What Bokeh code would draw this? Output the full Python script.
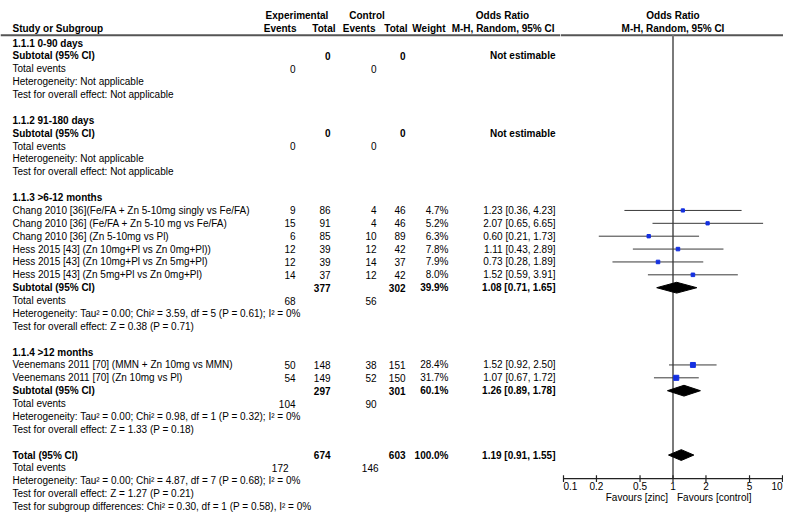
import math
from bokeh.plotting import figure
from bokeh.models import ColumnDataSource, Range1d
from bokeh.layouts import row
from bokeh.embed import file_html
from bokeh.resources import INLINE
from bokeh.core.properties import value

# ---------------- data ----------------
group_titles = ["1.1.1 0-90 days", "1.1.2 91-180 days", "1.1.3 >6-12 months", "1.1.4 >12 months"]

study_names = [
    "Chang 2010 [36](Fe/FA + Zn 5-10mg singly vs Fe/FA)",
    "Chang 2010 [36] (Fe/FA + Zn 5-10 mg vs Fe/FA)",
    "Chang 2010 [36] (Zn 5-10mg vs Pl)",
    "Hess 2015 [43] (Zn 10mg+Pl vs Zn 0mg+Pl))",
    "Hess 2015 [43] (Zn 10mg+Pl vs Zn 5mg+Pl)",
    "Hess 2015 [43] (Zn 5mg+Pl vs Zn 0mg+Pl)",
    "Veenemans 2011 [70] (MMN + Zn 10mg vs MMN)",
    "Veenemans 2011 [70] (Zn 10mg vs Pl)",
]
study_group = [2, 2, 2, 2, 2, 2, 3, 3]
exp_events = [9, 15, 6, 12, 12, 14, 50, 54]
exp_total = [86, 91, 85, 39, 39, 37, 148, 149]
ctrl_events = [4, 4, 10, 12, 14, 12, 38, 52]
ctrl_total = [46, 46, 89, 42, 37, 42, 151, 150]
weight = [4.7, 5.2, 6.3, 7.8, 7.9, 8.0, 28.4, 31.7]
or_est = [1.23, 2.07, 0.60, 1.11, 0.73, 1.52, 1.52, 1.07]
or_lo = [0.36, 0.65, 0.21, 0.43, 0.28, 0.59, 0.92, 0.67]
or_hi = [4.23, 6.65, 1.73, 2.89, 1.89, 3.91, 2.50, 1.72]

sub_exp_total = [0, 0, 377, 297]
sub_ctrl_total = [0, 0, 302, 301]
sub_weight = [None, None, 39.9, 60.1]
sub_est = [None, None, 1.08, 1.26]
sub_lo = [None, None, 0.71, 0.89]
sub_hi = [None, None, 1.65, 1.78]
sub_exp_events = [0, 0, 68, 104]
sub_ctrl_events = [0, 0, 56, 90]
sub_het = [
    "Heterogeneity: Not applicable",
    "Heterogeneity: Not applicable",
    "Heterogeneity: Tau² = 0.00; Chi² = 3.59, df = 5 (P = 0.61); I² = 0%",
    "Heterogeneity: Tau² = 0.00; Chi² = 0.98, df = 1 (P = 0.32); I² = 0%",
]
sub_test = [
    "Test for overall effect: Not applicable",
    "Test for overall effect: Not applicable",
    "Test for overall effect: Z = 0.38 (P = 0.71)",
    "Test for overall effect: Z = 1.33 (P = 0.18)",
]

total_exp_total = 674
total_ctrl_total = 603
total_weight = 100.0
total_est, total_lo, total_hi = 1.19, 0.91, 1.55
total_exp_events = 172
total_ctrl_events = 146
total_het = "Heterogeneity: Tau² = 0.00; Chi² = 4.87, df = 7 (P = 0.68); I² = 0%"
total_test = "Test for overall effect: Z = 1.27 (P = 0.21)"
total_subgroup = "Test for subgroup differences: Chi² = 0.30, df = 1 (P = 0.58), I² = 0%"

axis_ticks = [0.1, 0.2, 0.5, 1, 2, 5, 10]
axis_tick_labels = ["0.1", "0.2", "0.5", "1", "2", "5", "10"]
favours_labels = ["Favours [zinc]", "Favours [control]"]

# ---------------- layout constants ----------------
FONT = "Liberation Sans"
FS = "10px"
W_LEFT, W_RIGHT, H = 560, 223, 512
ROW0, ROWH = 42.59, 12.874
K_TOP = -ROW0 / ROWH
K_BOT = (H - ROW0) / ROWH
K_HEAD1, K_HEAD2, K_LINE = -2.105, -1.128, -0.60
K_AXIS, K_TICKLAB, K_FAV = 33.83, 34.44, 35.26

X_LABEL, X_EE, X_ET, X_CE, X_CT, X_W, X_OR = 12, 295, 330, 376, 405, 448, 555

yr = Range1d(start=K_BOT, end=K_TOP)

def make_fig(width, xr, xtype):
    p = figure(width=width, height=H, x_range=xr, y_range=yr, x_axis_type=xtype,
               x_axis_location=None, y_axis_location=None, toolbar_location=None,
               output_backend="svg", min_border=0)
    p.outline_line_color = None
    p.grid.grid_line_color = None
    p.background_fill_color = "white"
    p.border_fill_color = "white"
    return p

left = make_fig(W_LEFT, Range1d(0, W_LEFT), "linear")
PX_DEC = 109.5
lg_lo = -1 - 3 / PX_DEC
lg_hi = 1 + 1 / PX_DEC
right = make_fig(W_RIGHT, Range1d(10 ** lg_lo, 10 ** lg_hi), "log")

# ---------------- table text ----------------
T = dict(x=[], y=[], text=[], align=[], style=[])

def put(x, y, t, align="left", style="normal"):
    T["x"].append(x); T["y"].append(y); T["text"].append(str(t))
    T["align"].append(align); T["style"].append(style)

fmt_or = lambda e, l, h: f"{e:.2f} [{l:.2f}, {h:.2f}]"

# header
put(296.5, K_HEAD1, "Experimental", "center", "bold")
put(366.5, K_HEAD1, "Control", "center", "bold")
put(502, K_HEAD1, "Odds Ratio", "center", "bold")
put(X_LABEL, K_HEAD2, "Study or Subgroup", "left", "bold")
put(296, K_HEAD2, "Events", "right", "bold")
put(335, K_HEAD2, "Total", "right", "bold")
put(375, K_HEAD2, "Events", "right", "bold")
put(407, K_HEAD2, "Total", "right", "bold")
put(445, K_HEAD2, "Weight", "right", "bold")
put(554, K_HEAD2, "M-H, Random, 95% CI", "right", "bold")

st_rows, sub_rows = [], []
k = 0
for g in range(len(group_titles)):
    put(X_LABEL, k, group_titles[g], "left", "bold"); k += 1
    for i in range(len(study_names)):
        if study_group[i] != g:
            continue
        put(X_LABEL, k, study_names[i])
        put(X_EE, k, exp_events[i], "right")
        put(X_ET, k, exp_total[i], "right")
        put(X_CE, k, ctrl_events[i], "right")
        put(X_CT, k, ctrl_total[i], "right")
        put(X_W, k, f"{weight[i]:.1f}%", "right")
        put(X_OR, k, fmt_or(or_est[i], or_lo[i], or_hi[i]), "right")
        st_rows.append(k)
        k += 1
    put(X_LABEL, k, "Subtotal (95% CI)", "left", "bold")
    put(X_ET, k, sub_exp_total[g], "right", "bold")
    put(X_CT, k, sub_ctrl_total[g], "right", "bold")
    if sub_est[g] is None:
        put(X_OR, k, "Not estimable", "right", "bold")
    else:
        put(X_W, k, f"{sub_weight[g]:.1f}%", "right", "bold")
        put(X_OR, k, fmt_or(sub_est[g], sub_lo[g], sub_hi[g]), "right", "bold")
    sub_rows.append(k)
    k += 1
    put(X_LABEL, k, "Total events")
    put(X_EE, k, sub_exp_events[g], "right")
    put(X_CE, k, sub_ctrl_events[g], "right")
    k += 1
    put(X_LABEL, k, sub_het[g]); k += 1
    put(X_LABEL, k, sub_test[g]); k += 2

tot_row = k
put(X_LABEL, k, "Total (95% CI)", "left", "bold")
put(X_ET, k, total_exp_total, "right", "bold")
put(X_CT, k, total_ctrl_total, "right", "bold")
put(X_W, k, f"{total_weight:.1f}%", "right", "bold")
put(X_OR, k, fmt_or(total_est, total_lo, total_hi), "right", "bold")
k += 1
put(X_LABEL, k, "Total events")
put(288, k, total_exp_events, "right")
put(378, k, total_ctrl_events, "right")
k += 1
put(X_LABEL, k, total_het); k += 1
put(X_LABEL, k, total_test); k += 1
put(X_LABEL, k, total_subgroup)

left.text(x="x", y="y", text="text", text_align="align", text_font_style="style",
          source=ColumnDataSource(T), text_font=value(FONT), text_font_size=FS,
          text_baseline="middle", text_color="black")

# header rule
left.segment(x0=[0], y0=[K_LINE], x1=[W_LEFT], y1=[K_LINE], line_color="#555555", line_width=2)
right.segment(x0=[10 ** lg_lo], y0=[K_LINE], x1=[10 ** lg_hi], y1=[K_LINE], line_color="#555555", line_width=2)

# ---------------- forest plot ----------------
right.text(x=[1, 1], y=[K_HEAD1, K_HEAD2], text=["Odds Ratio", "M-H, Random, 95% CI"],
           text_align="center", text_baseline="middle", text_font=value(FONT),
           text_font_size=FS, text_font_style="bold", text_color="black")

# line of no effect
right.segment(x0=[1], y0=[K_LINE], x1=[1], y1=[K_AXIS], line_color="#7a7a7a", line_width=2)

# study CIs and squares
right.segment(x0=or_lo, y0=st_rows, x1=or_hi, y1=st_rows, line_color="#3a3a3a", line_width=1)
sizes = [2 + 0.55 * math.sqrt(w) for w in weight]
right.scatter(x=or_est, y=st_rows, size=sizes, marker="square", fill_color="#1430e0",
              line_color="#1430e0")

# diamonds
DH = 0.42
d_est = [e for e in sub_est if e is not None] + [total_est]
d_lo = [v for v in sub_lo if v is not None] + [total_lo]
d_hi = [v for v in sub_hi if v is not None] + [total_hi]
d_rows = [r for r, e in zip(sub_rows, sub_est) if e is not None] + [tot_row]
xs = [[lo, e, hi, e] for lo, e, hi in zip(d_lo, d_est, d_hi)]
ys = [[r, r - DH, r, r + DH] for r in d_rows]
right.patches(xs=xs, ys=ys, fill_color="black", line_color="black", line_width=1)

# x axis (log scale)
right.segment(x0=[axis_ticks[0]], y0=[K_AXIS], x1=[axis_ticks[-1]], y1=[K_AXIS],
              line_color="#222222", line_width=1.2)
right.segment(x0=axis_ticks, y0=[K_AXIS - 0.27] * len(axis_ticks), x1=axis_ticks,
              y1=[K_AXIS + 0.27] * len(axis_ticks), line_color="#222222", line_width=1.2)
aligns = ["left"] + ["center"] * (len(axis_ticks) - 2) + ["right"]
right.text(x=axis_ticks, y=[K_TICKLAB] * len(axis_ticks), text=axis_tick_labels,
           text_align=aligns, text_baseline="middle", text_font=value(FONT),
           text_font_size=FS, text_color="black")
right.text(x=[1, 1], y=[K_FAV, K_FAV], text=favours_labels, text_align=["right", "left"],
           x_offset=[-5, 4], text_baseline="middle", text_font=value(FONT),
           text_font_size=FS, text_color="black")

layout = row(left, right)
open("out.html", "w").write(file_html(layout, INLINE))
